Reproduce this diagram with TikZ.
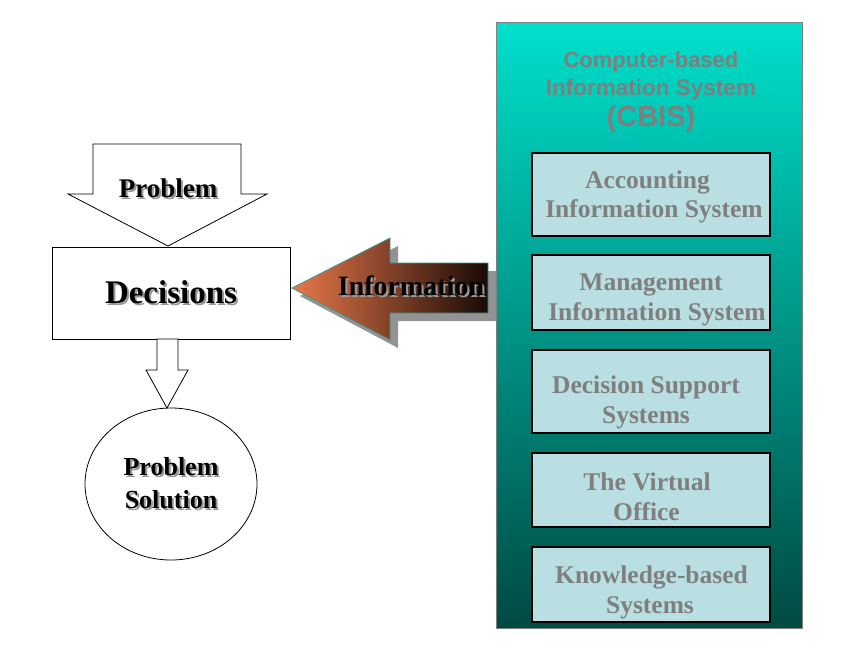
\documentclass[tikz,border=0pt]{standalone}
\usepackage{fontspec}
\setmainfont{Liberation Serif}
\setsansfont{Liberation Sans}
\usetikzlibrary{shapes.geometric}
\definecolor{panelTop}{HTML}{00E0CC}
\definecolor{panelBot}{HTML}{004A42}
\definecolor{boxFill}{HTML}{B9DFE2}
\definecolor{txtGray}{HTML}{7F7F7F}
\definecolor{arrOrange}{HTML}{E8784A}
\definecolor{arrDark}{HTML}{1A0A05}
\definecolor{arrEdge}{HTML}{3A9A90}
\tikzset{
  blockarrow/.style={draw=black, line width=0.8pt, fill=white, line join=miter},
  sysbox/.style={draw=black, line width=1.3pt, fill=boxFill, inner sep=0pt},
  systext/.style={text=txtGray, font=\bfseries\fontsize{25.5}{30}\selectfont, anchor=base, inner sep=0pt},
  titletext/.style={text=txtGray, anchor=base, inner sep=0pt}
}
\newcommand{\shtext}[1]{\leavevmode\rlap{\hspace{2pt}\raisebox{-2pt}{\textcolor{black!40}{#1}}}#1}
\begin{document}
\begin{tikzpicture}[x=1pt,y=-1pt]
\useasboundingbox (0,0) rectangle (862,651);
% right panel
\shade[top color=panelTop, bottom color=panelBot] (496,22) rectangle (802,628);
\draw[gray, line width=0.8pt] (496,22) rectangle (802,628);
\node[titletext, font=\sffamily\bfseries\fontsize{22}{25}\selectfont] (title1) at (651,67) {Computer-based};
\node[titletext, font=\sffamily\bfseries\fontsize{22.5}{25}\selectfont] (title2) at (651,95) {Information System};
\node[titletext, font=\sffamily\bfseries\fontsize{29}{30}\selectfont] (cbis) at (651,126) {(CBIS)};
% system boxes
\draw[sysbox] (532,153) rectangle (770,236);
\draw[sysbox] (532,255) rectangle (770,330);
\draw[sysbox] (532,350) rectangle (770,433);
\draw[sysbox] (532,453) rectangle (770,527);
\draw[sysbox] (532,547) rectangle (770,622);
\node[systext] (acc1) at (647.5,188) {Accounting};
\node[systext] (acc2) at (654,217) {Information System};
\node[systext] (mis1) at (651,290) {Management};
\node[systext] (mis2) at (657,320) {Information System};
\node[systext] (dss1) at (646,393) {Decision Support};
\node[systext] (dss2) at (646,423) {Systems};
\node[systext] (vo1) at (647,490) {The Virtual};
\node[systext] (vo2) at (646.5,520) {Office};
\node[systext] (kbs1) at (651.5,583) {Knowledge-based};
\node[systext] (kbs2) at (650,613) {Systems};
% information arrow: shadow
\fill[gray!85] (300,296) -- (398,246) -- (398,271) -- (496,271) -- (496,321) -- (398,321) -- (398,348) -- cycle;
\shade[left color=arrOrange, right color=arrDark, draw=arrEdge, line width=0.8pt]
  (292,288) -- (390,238) -- (390,263) -- (488,263) -- (488,313) -- (390,313) -- (390,340) -- cycle;
\node[font=\bfseries\fontsize{28}{30}\selectfont, inner sep=0pt] (info) at (411,287) {\shtext{Information}};
% problem arrow
\draw[blockarrow] (93,144) -- (241,144) -- (241,194) -- (267,194) -- (168,246) -- (68,194) -- (93,194) -- cycle;
\node[font=\bfseries\fontsize{27}{30}\selectfont, inner sep=0pt] (prob) at (168,189) {\shtext{Problem}};
% decisions box
\node[draw=black, line width=0.8pt, fill=white, minimum width=238pt, minimum height=92pt, inner sep=0pt,
  font=\bfseries\fontsize{33}{36}\selectfont] (dec) at (171,293) {\shtext{Decisions}};
% down arrow
\draw[blockarrow] (157,339) -- (178,339) -- (178,370) -- (188,370) -- (167,408) -- (146,370) -- (157,370) -- cycle;
% solution circle
\node[draw=black, line width=0.8pt, ellipse, minimum width=172pt, minimum height=152pt, inner sep=0pt] (sol) at (171,484) {};
\node[font=\bfseries\fontsize{26}{33}\selectfont, align=center, inner sep=0pt] (soltext) at (sol.center) {\shtext{Problem}\\\shtext{Solution}};
\end{tikzpicture}
\end{document}
